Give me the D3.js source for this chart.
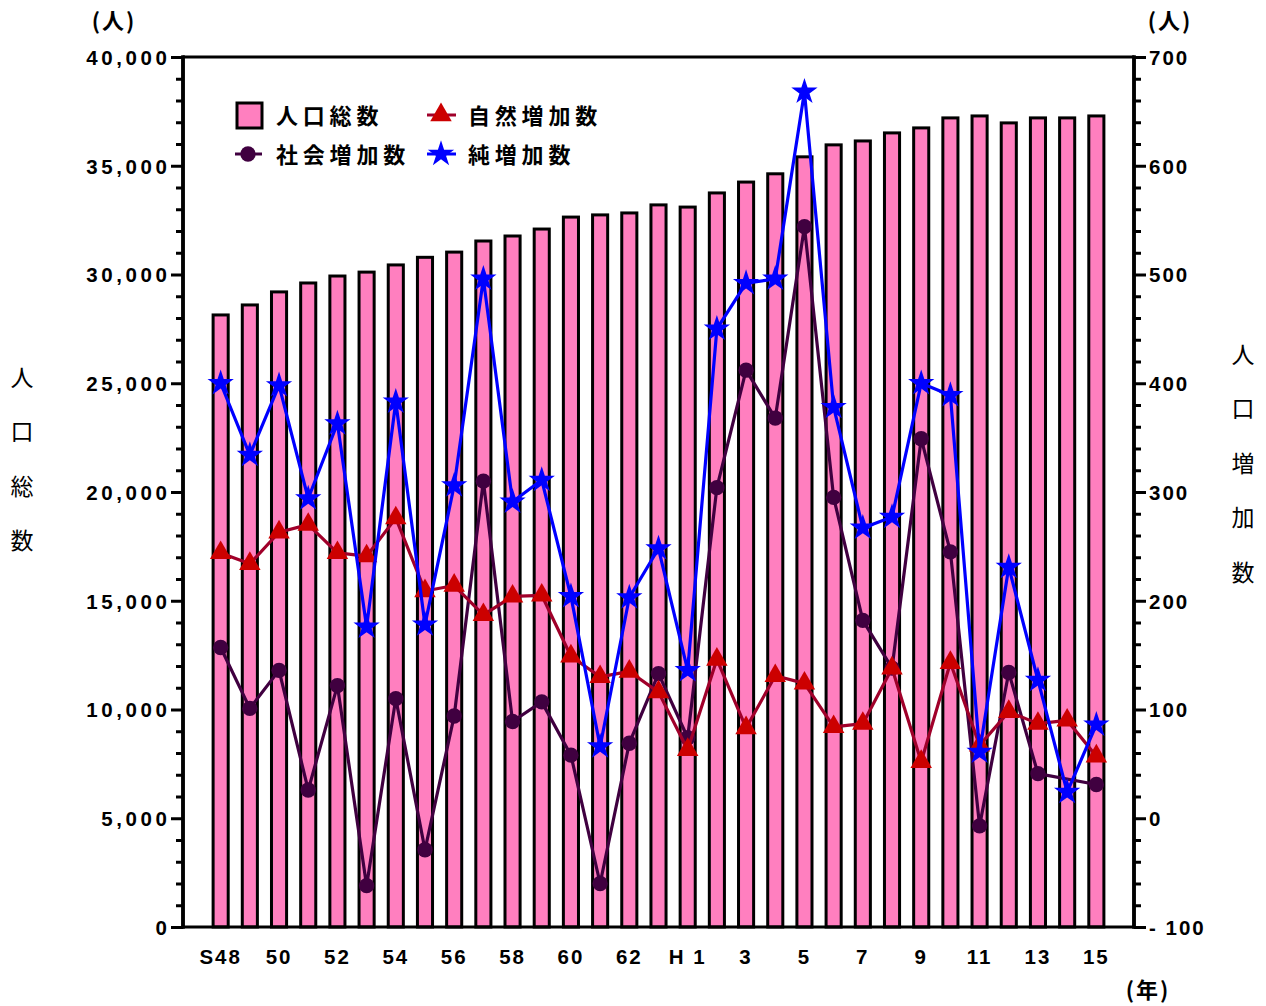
<!DOCTYPE html>
<html><head><meta charset="utf-8">
<script src="https://cdn.jsdelivr.net/npm/d3@7"></script>
<style>
body{margin:0;background:#fff;}
svg{display:block;}
text{font-family:"Liberation Sans",Arial,"Noto Sans CJK JP",sans-serif;}
.jp{font-family:"Noto Sans CJK JP",sans-serif;}
</style></head>
<body>
<svg id="c" width="1266" height="1006"></svg>
<script>
// ---- data ----
const years = ["S48","S49","S50","S51","S52","S53","S54","S55","S56","S57","S58","S59","S60","S61","S62","S63",
  "H1","H2","H3","H4","H5","H6","H7","H8","H9","H10","H11","H12","H13","H14","H15"];
const tickLabels = {"S48":"S48","S50":"50","S52":"52","S54":"54","S56":"56","S58":"58","S60":"60","S62":"62",
  "H1":"H 1","H3":"3","H5":"5","H7":"7","H9":"9","H11":"11","H13":"13","H15":"15"};
const population = [28140,28600,29200,29610,29930,30110,30440,30790,31030,31540,31770,32090,32640,32740,32830,33200,
  33100,33750,34250,34630,35410,35960,36140,36510,36740,37200,37290,36970,37200,37200,37290];
const socialInc = [157,101,136,26,122,-62,110,-29,94,310,89,107,58,-60,69,133,
  74,304,412,368,544,295,182,138,349,245,-7,134,41,null,31];
const naturalInc = [244,234,263,270,244,241,276,209,214,187,204,205,149,130,135,116,
  63,146,83,131,124,84,87,138,52,143,67,98,87,90,57];
const netInc = [400,334,398,294,363,176,383,178,306,496,291,311,204,66,203,248,
  136,450,492,496,668,378,267,277,400,389,61,231,127,24,86];
const leftTicks = [0,5000,10000,15000,20000,25000,30000,35000,40000];
const rightTicks = [-100,0,100,200,300,400,500,600,700];

// ---- layout ----
const svg = d3.select("#c");
const L = 183, R = 1134, T = 57, B = 927;
const x = d3.scaleBand().domain(years).range([L, R]).paddingInner(0.38).paddingOuter(0.98);
const yL = d3.scaleLinear().domain([0, 40000]).range([B, T]);
const yR = d3.scaleLinear().domain([-100, 700]).range([B, T]);
const cx = d => x(d) + x.bandwidth() / 2;

// bars
svg.append("g").selectAll("rect").data(years).join("rect")
  .attr("x", (d) => x(d) + 1.5)
  .attr("width", x.bandwidth() - 3)
  .attr("y", (d, i) => yL(population[i]))
  .attr("height", (d, i) => B - yL(population[i]))
  .attr("fill", "#ff7fbf").attr("stroke", "#000").attr("stroke-width", 3);

// frame: top and bottom
svg.append("line").attr("x1", L).attr("x2", R).attr("y1", T).attr("y2", T).attr("stroke", "#000").attr("stroke-width", 3);
svg.append("line").attr("x1", L).attr("x2", R).attr("y1", B).attr("y2", B).attr("stroke", "#000").attr("stroke-width", 3);

// left axis
const minorL = d3.range(0, 40001, 1000).filter(v => v % 5000 !== 0);
const gLm = svg.append("g").attr("transform", `translate(${L},0)`)
  .call(d3.axisLeft(yL).tickValues(minorL).tickSize(7).tickFormat(""));
const gL = svg.append("g").attr("transform", `translate(${L},0)`)
  .call(d3.axisLeft(yL).tickValues(leftTicks).tickSize(12).tickPadding(4).tickFormat(d3.format(",")));
[gLm, gL].forEach(g => {
  g.selectAll("path").attr("stroke-width", 3.5).attr("d", `M0,${T-1.5}V${B+1.5}`);
  g.selectAll("line").attr("stroke-width", 3);
});
gL.selectAll("text").attr("font-size", 20.5).attr("font-weight", "bold").attr("fill", "#000")
  .style("letter-spacing", "3.6px").attr("dx", 3.6).attr("dy", "0.36em");

// right axis
const minorR = d3.range(-100, 701, 20).filter(v => v % 100 !== 0);
const gRm = svg.append("g").attr("transform", `translate(${R},0)`)
  .call(d3.axisRight(yR).tickValues(minorR).tickSize(7).tickFormat(""));
const gR = svg.append("g").attr("transform", `translate(${R},0)`)
  .call(d3.axisRight(yR).tickValues(rightTicks).tickSize(12).tickPadding(3).tickFormat(d => d < 0 ? "- " + Math.abs(d) : String(d)));
[gRm, gR].forEach(g => {
  g.selectAll("path").attr("stroke-width", 3.5).attr("d", `M0,${T-1.5}V${B+1.5}`);
  g.selectAll("line").attr("stroke-width", 3);
});
gR.selectAll("text").attr("font-size", 20.5).attr("font-weight", "bold").attr("fill", "#000")
  .style("letter-spacing", "2px").attr("dy", "0.36em");

// x axis labels
const gX = svg.append("g").attr("transform", `translate(0,${B})`)
  .call(d3.axisBottom(x).tickValues(Object.keys(tickLabels)).tickSize(0).tickPadding(22).tickFormat(d => tickLabels[d]));
gX.select("path").remove();
gX.selectAll("text").attr("font-size", 20.5).attr("font-weight", "bold").attr("fill", "#000")
  .style("letter-spacing", "2px");

// series lines & markers
function series(vals, lineColor, markerColor, sym, size) {
  const pts = years.map((d, i) => ({ d, v: vals[i] })).filter(p => p.v !== null);
  svg.append("path").datum(pts)
    .attr("d", d3.line().x(p => cx(p.d)).y(p => yR(p.v)))
    .attr("fill", "none").attr("stroke", lineColor).attr("stroke-width", 3.2).attr("stroke-linejoin", "round");
  svg.append("g").selectAll("path").data(pts).join("path")
    .attr("transform", p => `translate(${cx(p.d)},${yR(p.v)})`)
    .attr("d", d3.symbol().type(sym).size(size))
    .attr("fill", markerColor);
}
series(socialInc, "#400040", "#400040", d3.symbolCircle, 185);
series(naturalInc, "#a0002a", "#cc0000", d3.symbolTriangle, 200);
series(netInc, "#0000ff", "#0000ff", d3.symbolStar, 215);

// legend
const lg = svg.append("g");
lg.append("rect").attr("x", 237).attr("y", 103).attr("width", 25).attr("height", 25)
  .attr("fill", "#ff7fbf").attr("stroke", "#000").attr("stroke-width", 3);
lg.append("line").attr("x1", 235).attr("x2", 262).attr("y1", 154).attr("y2", 154).attr("stroke", "#400040").attr("stroke-width", 3);
lg.append("path").attr("transform", "translate(248,154)").attr("d", d3.symbol().type(d3.symbolCircle).size(185)).attr("fill", "#400040");
lg.append("line").attr("x1", 427).attr("x2", 456).attr("y1", 115).attr("y2", 115).attr("stroke", "#a0002a").attr("stroke-width", 3);
lg.append("path").attr("transform", "translate(441,115)").attr("d", d3.symbol().type(d3.symbolTriangle).size(200)).attr("fill", "#cc0000");
lg.append("line").attr("x1", 427).attr("x2", 456).attr("y1", 154).attr("y2", 154).attr("stroke", "#0000ff").attr("stroke-width", 3);
lg.append("path").attr("transform", "translate(441,154)").attr("d", d3.symbol().type(d3.symbolStar).size(215)).attr("fill", "#0000ff");
const legendTexts = [["人口総数", 276, 124], ["社会増加数", 276, 163], ["自然増加数", 468, 124], ["純増加数", 468, 163]];
lg.selectAll("text").data(legendTexts).join("text")
  .attr("class", "jp").attr("x", d => d[1]).attr("y", d => d[2]).text(d => d[0])
  .attr("font-size", 22).attr("font-weight", "bold").style("letter-spacing", "4.8px");

// unit labels
svg.append("text").attr("class", "jp").attr("x", 114).attr("y", 29).attr("text-anchor", "middle")
  .attr("font-size", 22).attr("font-weight", "bold").style("letter-spacing", "2px").text("(人)");
svg.append("text").attr("class", "jp").attr("x", 1170).attr("y", 29).attr("text-anchor", "middle")
  .attr("font-size", 22).attr("font-weight", "bold").style("letter-spacing", "2px").text("(人)");
svg.append("text").attr("class", "jp").attr("x", 1148).attr("y", 998).attr("text-anchor", "middle")
  .attr("font-size", 22).attr("font-weight", "bold").style("letter-spacing", "2px").text("(年)");

// axis titles (vertical stacked)
const leftTitle = ["人", "口", "総", "数"];
svg.append("g").selectAll("text").data(leftTitle).join("text")
  .attr("class", "jp").attr("x", 22).attr("y", (d, i) => 386 + i * 54.3)
  .attr("text-anchor", "middle").attr("font-size", 23).text(d => d);
const rightTitle = ["人", "口", "増", "加", "数"];
svg.append("g").selectAll("text").data(rightTitle).join("text")
  .attr("class", "jp").attr("x", 1243).attr("y", (d, i) => 363 + i * 54.4)
  .attr("text-anchor", "middle").attr("font-size", 23).text(d => d);
</script>
</body></html>
